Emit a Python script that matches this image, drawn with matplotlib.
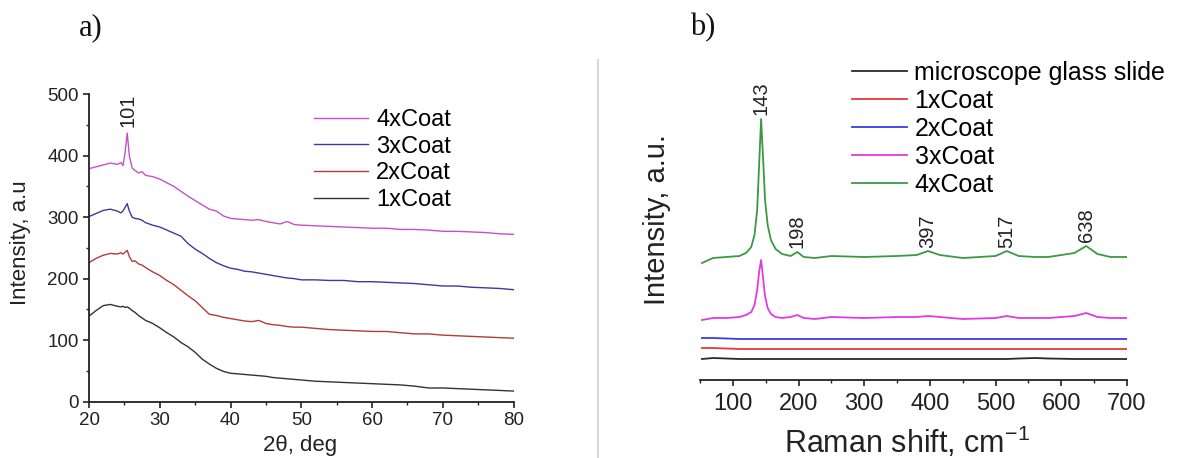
import matplotlib
matplotlib.use("Agg")
import matplotlib.pyplot as plt
from matplotlib.lines import Line2D
from matplotlib.ticker import MultipleLocator

plt.rcParams['font.family'] = ['Liberation Sans', 'DejaVu Sans']
plt.rcParams['mathtext.fontset'] = 'custom'
plt.rcParams['mathtext.rm'] = 'Liberation Sans'
plt.rcParams['mathtext.it'] = 'Liberation Sans:italic'

# ---------------- Panel a data (XRD) ----------------
two_theta = [20, 21, 22, 23, 24, 24.5, 24.8, 25.1, 25.4, 25.7, 26.1, 26.5, 27, 27.5, 28,
             29, 30, 31, 32, 33, 34, 35, 36, 37, 38, 39, 40, 41, 42, 43, 44, 45, 46, 47,
             48, 49, 50, 52, 54, 56, 58, 60, 62, 64, 66, 68, 70, 72, 74, 76, 78, 80]
xrd_4x = [379, 382, 385, 388, 386, 389, 384, 405, 437, 400, 380, 376, 372, 374, 368,
          366, 362, 356, 350, 342, 334, 327, 320, 313, 310, 302, 298, 297, 296, 295, 296,
          293, 291, 289, 293, 288, 287, 286, 285, 284, 283, 282, 282, 280, 280, 279, 277,
          277, 276, 275, 273, 272]
xrd_3x = [301, 306, 311, 313, 310, 307, 310, 316, 322, 310, 300, 298, 297, 295, 291,
          287, 284, 279, 274, 269, 257, 248, 241, 233, 226, 221, 217, 215, 212, 211, 209,
          207, 205, 203, 201, 200, 198, 198, 197, 197, 195, 195, 194, 193, 192, 190, 188,
          188, 186, 185, 184, 182]
xrd_2x = [226, 233, 238, 241, 240, 242, 240, 243, 246, 236, 228, 229, 224, 222, 218,
          211, 205, 197, 190, 181, 172, 164, 153, 142, 140, 137, 135, 133, 131, 130, 132,
          127, 125, 124, 122, 121, 121, 119, 117, 116, 115, 114, 114, 112, 110, 110, 108,
          107, 106, 105, 104, 103]
xrd_1x = [139, 148, 156, 158, 155, 154, 155, 153, 154, 152, 148, 145, 140, 136, 132,
          127, 120, 112, 105, 96, 89, 80, 69, 61, 54, 49, 46, 45, 44, 43, 42,
          41, 39, 38, 37, 36, 35, 33, 32, 31, 30, 29, 28, 27, 25, 22, 22,
          21, 20, 19, 18, 17]
xrd_labels = ["4xCoat", "3xCoat", "2xCoat", "1xCoat"]
xrd_peak_pos = 25.5
xrd_peak_label = "101"

# ---------------- Panel b data (Raman) ----------------
raman_shift = [53, 70, 90, 110, 120, 128, 133, 137, 140, 143, 146, 149, 153, 158, 165,
               175, 188, 198, 208, 225, 250, 300, 350, 380, 397, 415, 450, 500, 517, 535,
               560, 580, 620, 638, 655, 675, 700]
raman_4x = [117, 122, 123, 124, 127, 133, 145, 170, 215, 261, 222, 180, 155, 140, 131,
            126, 124, 128, 123, 122, 124, 123, 124, 125, 129, 125, 122, 124, 129, 124,
            123, 123, 127, 134, 126, 123, 123]
raman_3x = [60, 62, 62, 63, 65, 68, 75, 90, 108, 120, 102, 84, 72, 66, 63,
            62, 63, 65, 62, 61, 63, 62, 63, 63, 64, 63, 61, 62, 64, 62,
            62, 62, 64, 67, 63, 62, 62]
raman_2x = [42, 42, 41.5, 41, 41, 41, 41, 41, 41, 41, 41, 41, 41, 41, 41,
            41, 41, 41, 41, 41, 41, 41, 41, 41, 41, 41, 41, 41, 41, 41,
            41, 41, 41, 41, 41, 41, 41]
raman_1x = [32, 32, 31.5, 31, 31, 31, 31, 31, 31, 31, 31, 31, 31, 31, 31,
            31, 31, 31, 31, 31, 31, 31, 31, 31, 31, 31, 31, 31, 31, 31,
            31, 31, 31, 31, 31, 31, 31]
raman_glass = [21, 22, 21.5, 21, 21, 21, 21, 21, 21, 21, 21, 21, 21, 21, 21,
               21, 21, 21, 21, 21, 21, 21, 21, 21, 21, 21, 21, 21, 21, 21.5,
               22, 21.5, 21, 21, 21, 21, 21]
raman_labels = ["microscope glass slide", "1xCoat", "2xCoat", "3xCoat", "4xCoat"]
raman_peaks = [143, 198, 397, 517, 638]
raman_peak_y = [265, 132, 132, 132, 138]

W, H = 1197, 458
fig = plt.figure(figsize=(W / 100, H / 100), dpi=100)

def fx(px):
    return px / W

def fy(py):
    return 1 - py / H

# ---------------- Panel a ----------------
axa = fig.add_axes([fx(89), fy(401.5), fx(513.6) - fx(89), fy(94.3) - fy(401.5)])
cols_a = ["#c651c6", "#3b3b9c", "#b53a3a", "#333333"]
for ys, c, lab in zip([xrd_4x, xrd_3x, xrd_2x, xrd_1x], cols_a, xrd_labels):
    axa.plot(two_theta, ys, color=c, lw=1.0, label=lab)
axa.set_xlim(20, 80)
axa.set_ylim(0, 500)
axa.spines['top'].set_visible(False)
axa.spines['right'].set_visible(False)
for s in ['left', 'bottom']:
    axa.spines[s].set_linewidth(1.3)
    axa.spines[s].set_color('#222222')
axa.xaxis.set_major_locator(MultipleLocator(10))
axa.xaxis.set_minor_locator(MultipleLocator(5))
axa.yaxis.set_major_locator(MultipleLocator(100))
axa.yaxis.set_minor_locator(MultipleLocator(50))
axa.tick_params(which='major', direction='out', length=4.5, width=1.2, labelsize=13.5,
                pad=3, colors='#222222')
axa.tick_params(which='minor', direction='out', length=2.5, width=1.0, colors='#222222')
axa.text(xrd_peak_pos, 447, xrd_peak_label, rotation=90, ha='center', va='bottom',
         fontsize=14.5, color='#222222')
axa.legend(loc='upper left', bbox_to_anchor=(fx(314), fy(109)),
           bbox_transform=fig.transFigure, frameon=False, fontsize=17,
           handlelength=2.3, handletextpad=0.33, labelspacing=0.2,
           borderpad=0, borderaxespad=0)
fig.text(fx(21), fy(243), "Intensity, a.u", rotation=90, ha='center', va='center',
         fontsize=16, color='#222222')
fig.text(fx(300), fy(446), "2θ, deg", ha='center', va='center', fontsize=16,
         color='#222222')
fig.text(fx(91), fy(28), "a)", ha='center', va='center', fontsize=22,
         family='Liberation Serif', color='#111111')

# ---------------- Panel b ----------------
axb = fig.add_axes([fx(700), fy(380), fx(1127) - fx(700), fy(100) - fy(380)])
cols_b = ["#2a2a2a", "#e23a3a", "#3a3ae6", "#e23ae2", "#3a9a42"]
for ys, c, lab in zip([raman_glass, raman_1x, raman_2x, raman_3x, raman_4x], cols_b,
                      raman_labels):
    axb.plot(raman_shift, ys, color=c, lw=1.3, label=lab)
axb.set_xlim(50, 700)
axb.set_ylim(0, 280)
for s in ['top', 'right', 'left']:
    axb.spines[s].set_visible(False)
axb.spines['bottom'].set_linewidth(1.3)
axb.spines['bottom'].set_color('#222222')
axb.set_yticks([])
axb.xaxis.set_major_locator(MultipleLocator(100))
axb.xaxis.set_minor_locator(MultipleLocator(50))
axb.tick_params(axis='x', which='major', direction='out', length=4, width=1.2,
                labelsize=17, pad=5, colors='#222222')
axb.tick_params(axis='x', which='minor', direction='out', length=2.5, width=1.0,
                colors='#222222')
for p, yv in zip(raman_peaks, raman_peak_y):
    axb.text(p, yv, str(p), rotation=90, ha='center', va='bottom', fontsize=14.5,
             color='#222222')
axb.legend(loc='upper left', bbox_to_anchor=(fx(852), fy(61)),
           bbox_transform=fig.transFigure, frameon=False, fontsize=18,
           handlelength=2.2, handletextpad=0.3, labelspacing=0.16,
           borderpad=0, borderaxespad=0)
fig.text(fx(657), fy(220), "Intensity, a.u.", rotation=90, ha='center', va='center',
         fontsize=21, color='#222222')
fig.text(fx(907), fy(442), "Raman shift, cm$^{-1}$", ha='center', va='center',
         fontsize=22, color='#222222')
fig.text(fx(703), fy(28), "b)", ha='center', va='center', fontsize=22,
         family='Liberation Serif', color='#111111')

# faint frame edge of the right panel in the scan
fig.add_artist(Line2D([fx(598), fx(598)], [fy(60), fy(458)], transform=fig.transFigure,
                      color='#d8d8d8', lw=1.5))

fig.savefig("out.png", dpi=100)
